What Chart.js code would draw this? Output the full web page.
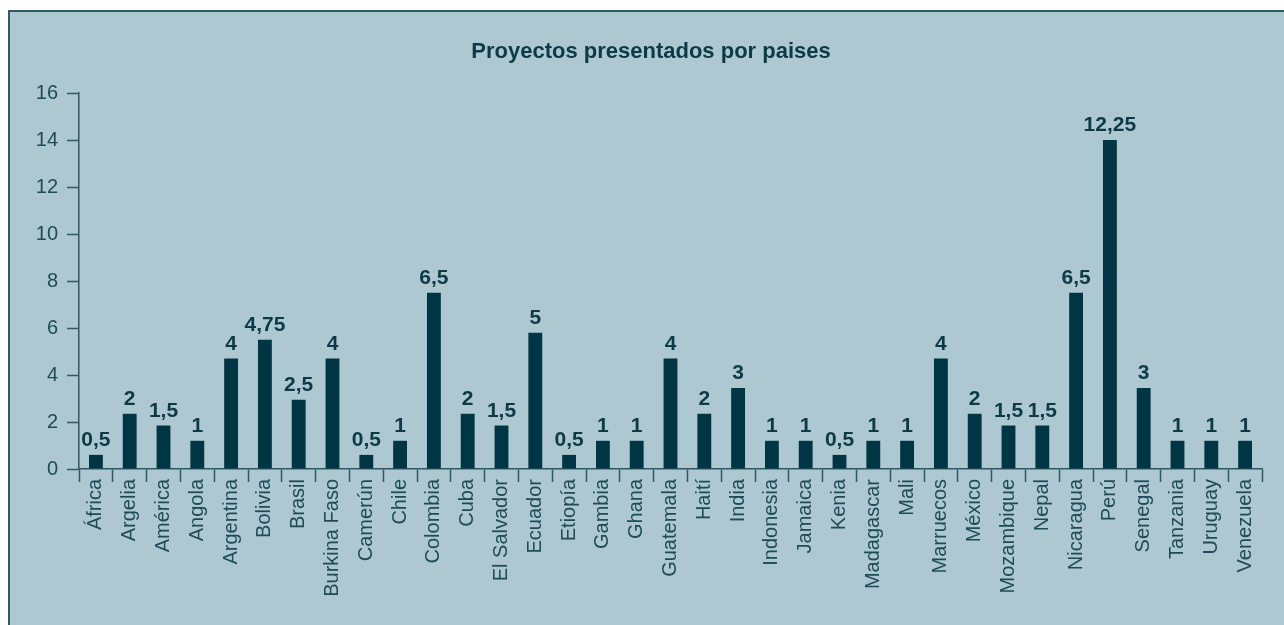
<!DOCTYPE html>
<html>
<head>
<meta charset="utf-8">
<script src="https://cdn.jsdelivr.net/npm/chart.js@4.4.1/dist/chart.umd.min.js"></script>
<style>
html, body { margin: 0; padding: 0; background: #fff; overflow: hidden; }
#wrap { position: relative; width: 1284px; height: 625px; }
#panel { position: absolute; left: 8px; top: 10px; width: 1300px; height: 640px; background: #adc8d0; border: 2px solid #2f5a66; }
#chart { position: absolute; left: 0; top: 0; }
</style>
</head>
<body>
<div id="wrap">
  <div id="panel"></div>
  <canvas id="chart" width="1284" height="625"></canvas>
</div>
<script>
// data
const countries = ['África', 'Argelia', 'América', 'Angola', 'Argentina', 'Bolivia', 'Brasil',
    'Burkina Faso', 'Camerún', 'Chile', 'Colombia', 'Cuba', 'El Salvador', 'Ecuador', 'Etiopía',
    'Gambia', 'Ghana', 'Guatemala', 'Haití', 'India', 'Indonesia', 'Jamaica', 'Kenia',
    'Madagascar', 'Mali', 'Marruecos', 'México', 'Mozambique', 'Nepal', 'Nicaragua', 'Perú',
    'Senegal', 'Tanzania', 'Uruguay', 'Venezuela'];

// bar heights as drawn (they don't match the printed labels exactly)
const barValues = [0.6, 2.35, 1.85, 1.2, 4.7, 5.5, 2.95, 4.7, 0.6, 1.2, 7.5, 2.35, 1.85, 5.8, 0.6,
    1.2, 1.2, 4.7, 2.35, 3.45, 1.2, 1.2, 0.6, 1.2, 1.2, 4.7, 2.35, 1.85, 1.85, 7.5, 14,
    3.45, 1.2, 1.2, 1.2];

// printed labels on top of bars
const valueLabels = ['0,5', '2', '1,5', '1', '4', '4,75', '2,5', '4', '0,5', '1', '6,5', '2', '1,5', '5', '0,5',
    '1', '1', '4', '2', '3', '1', '1', '0,5', '1', '1', '4', '2', '1,5', '1,5', '6,5', '12,25',
    '3', '1', '1', '1'];

const yMin = 0;
const yMax = 16;
const yStep = 2;
const chartTitle = 'Proyectos presentados por paises';

const FONT = '"Liberation Sans", Arial, Helvetica, sans-serif';
const TEXT = '#1d4b58';
const LINE = '#2d5865';

const valueLabelPlugin = {
    id: 'valueLabels',
    afterDatasetsDraw(chart) {
        const ctx = chart.ctx;
        const meta = chart.getDatasetMeta(0);
        ctx.save();
        ctx.font = 'bold 21px ' + FONT;
        ctx.fillStyle = '#0c3a47';
        ctx.textAlign = 'center';
        ctx.textBaseline = 'alphabetic';
        meta.data.forEach((bar, i) => {
            ctx.fillText(valueLabels[i], bar.x, bar.y - 9);
        });
        // title
        ctx.font = 'bold 22px ' + FONT;
        ctx.textBaseline = 'middle';
        ctx.fillText(chartTitle, 651, 52);
        ctx.restore();
    }
};

const ctx = document.getElementById('chart').getContext('2d');
const chart = new Chart(ctx, {
    type: 'bar',
    data: {
        labels: countries,
        datasets: [{
            data: barValues,
            backgroundColor: '#003644',
            borderWidth: 0,
            barPercentage: 0.41,
            categoryPercentage: 1
        }]
    },
    options: {
        responsive: false,
        animation: false,
        layout: { padding: { top: 93, right: 22, bottom: 0, left: 0 } },
        plugins: {
            legend: { display: false },
            title: { display: false },
            tooltip: { enabled: false }
        },
        scales: {
            x: {
                afterFit(scale) { scale.height = 156; },
                grid: {
                    offset: true,
                    drawOnChartArea: false,
                    tickLength: 13,
                    tickWidth: 1.5,
                    tickColor: LINE
                },
                border: { display: true, color: LINE, width: 1.5 },
                ticks: {
                    autoSkip: false,
                    maxRotation: 90,
                    minRotation: 90,
                    padding: -3,
                    color: TEXT,
                    font: { family: FONT, size: 20 }
                }
            },
            y: {
                min: yMin,
                max: yMax,
                afterFit(scale) { scale.width = 79; },
                grid: {
                    drawOnChartArea: false,
                    tickLength: 12,
                    tickWidth: 1.5,
                    tickColor: LINE
                },
                border: { display: true, color: LINE, width: 1.5 },
                ticks: {
                    stepSize: yStep,
                    padding: 9,
                    color: TEXT,
                    font: { family: FONT, size: 20 }
                }
            }
        }
    },
    plugins: [valueLabelPlugin]
});
</script>
</body>
</html>
